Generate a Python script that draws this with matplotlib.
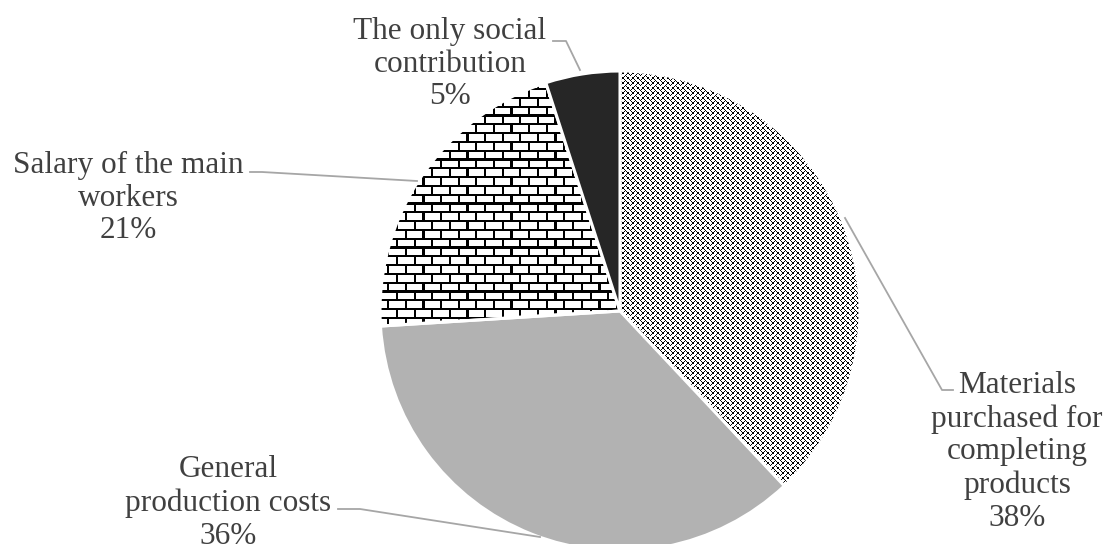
import matplotlib
matplotlib.use("Agg")
import matplotlib.pyplot as plt
import numpy as np

# data, clockwise from 12 o'clock
labels = ["Materials\npurchased for\ncompleting\nproducts",
          "General\nproduction costs",
          "Salary of the main\nworkers",
          "The only social\ncontribution"]
values = [38, 36, 21, 5]

W, H = 1109, 544

# 8x8 fill patterns (1 = black)
weave = np.array([[int(b) for b in format(v, "08b")]
                  for v in [0x88, 0x54, 0x22, 0x45, 0x88, 0x14, 0x22, 0x51]])
brick = np.array([[1, 1, 1, 1, 1, 1, 1, 1],
                  [1, 0, 0, 0, 0, 0, 0, 0],
                  [1, 0, 0, 0, 0, 0, 0, 0],
                  [1, 0, 0, 0, 0, 0, 0, 0],
                  [1, 1, 1, 1, 1, 1, 1, 1],
                  [0, 0, 0, 0, 1, 0, 0, 0],
                  [0, 0, 0, 0, 1, 0, 0, 0],
                  [0, 0, 0, 0, 1, 0, 0, 0]])


def texture(tile, scale):
    ny = int(np.ceil(H / scale / 8)) + 1
    nx = int(np.ceil(W / scale / 8)) + 1
    big = np.tile(tile, (ny, nx))
    return big, (0, big.shape[1] * scale, big.shape[0] * scale, 0)


fig = plt.figure(figsize=(W / 100, H / 100), dpi=100)
ax = fig.add_axes([0, 0, 1, 1])

cx, cy, r = 620, 311, 240
colors = ["none", "#b2b2b2", "none", "#262626"]
wedges, _ = ax.pie(values, colors=colors, startangle=-90, counterclock=True,
                   center=(cx, cy), radius=r,
                   wedgeprops=dict(edgecolor="white", linewidth=2.2))
for w in wedges:
    w.set_zorder(2)

# textured fills clipped to the wedges
for w, (tile, sc) in [(wedges[0], (weave, 1.25)), (wedges[2], (brick, 2.2))]:
    img, ext = texture(tile, sc)
    im = ax.imshow(img, cmap="gray_r", vmin=0, vmax=1, extent=ext,
                   interpolation="nearest", zorder=1)
    im.set_clip_path(w)

ax.set_xlim(0, W)
ax.set_ylim(H, 0)
ax.axis("off")

# labels (the 36% runs off the bottom edge, as in the original)
lab_pos = [(1017, 452), (228, 503), (128, 198), (450, 64)]
for lab, v, (x, y) in zip(labels, values, lab_pos):
    ax.text(x, y, "%s\n%d%%" % (lab, v), ha="center", va="center",
            fontsize=22.5, family="Liberation Serif", color="#404040",
            linespacing=1.18, zorder=3)

# leader lines
lc = "#a6a6a6"
ax.plot([845, 942, 953], [218, 390, 390], color=lc, lw=1.3)
ax.plot([338, 360, 540], [509, 509, 537], color=lc, lw=1.3)
ax.plot([250, 262, 417], [172, 172, 181], color=lc, lw=1.3)
ax.plot([553, 566, 580], [41, 41, 70], color=lc, lw=1.3)

fig.savefig("out.png", dpi=100)
